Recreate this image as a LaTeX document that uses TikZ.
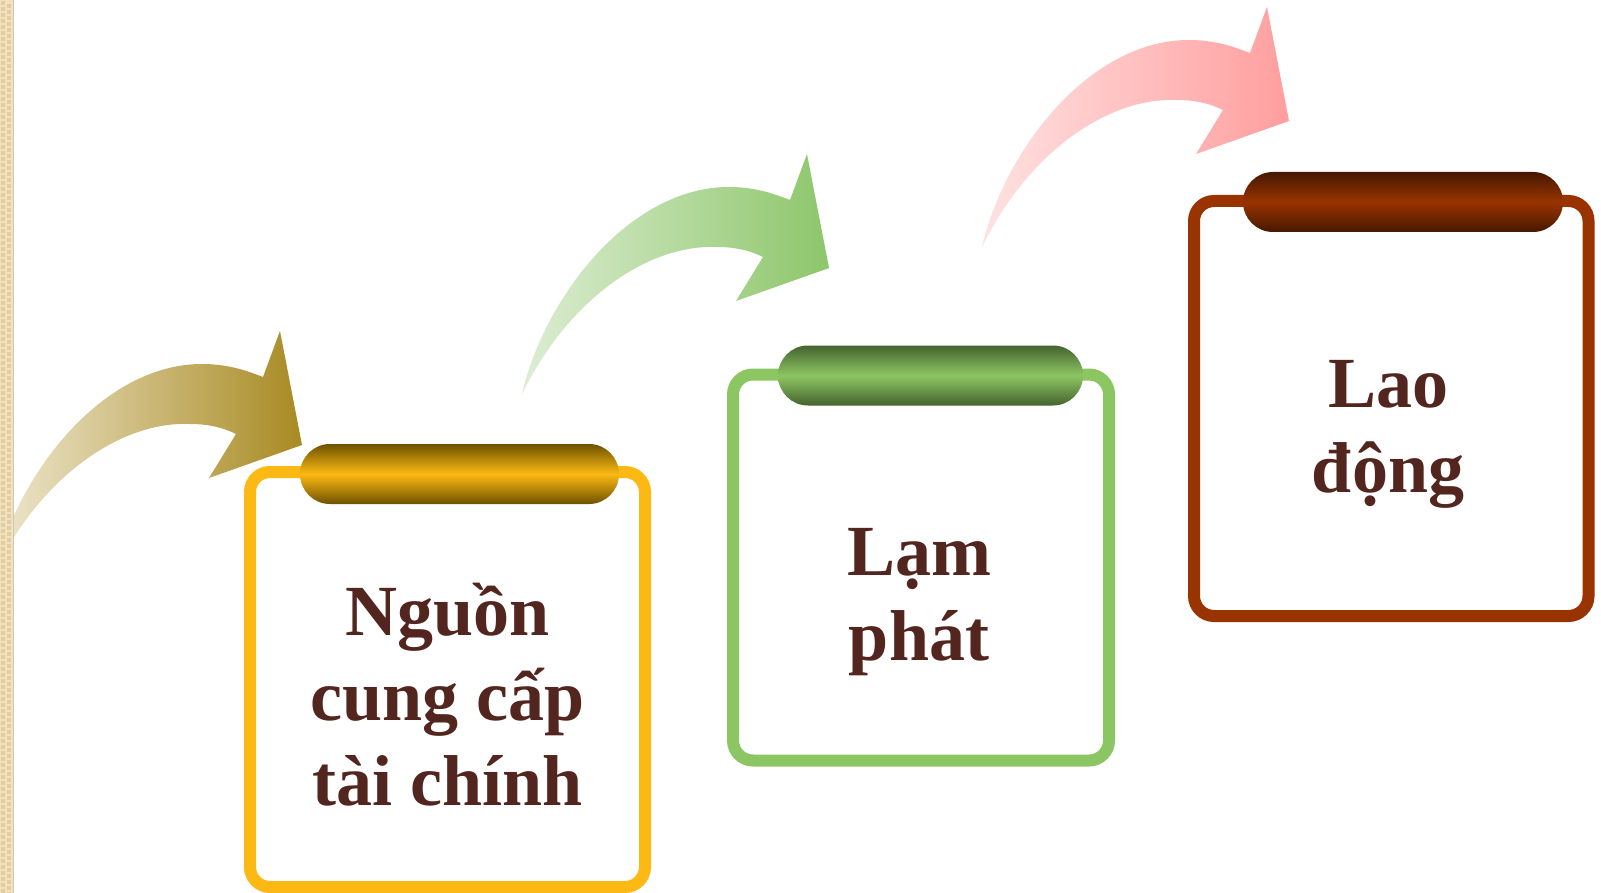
\documentclass[tikz,border=0pt]{standalone}
\usepackage{fontspec}
\setmainfont{Liberation Serif}
\definecolor{textbrown}{HTML}{52261E}
\definecolor{boxyellow}{HTML}{FDB913}
\definecolor{tabyellowdark}{HTML}{6E5200}
\definecolor{boxgreen}{HTML}{8CC663}
\definecolor{tabgreendark}{HTML}{45632F}
\definecolor{boxbrown}{HTML}{993300}
\definecolor{tabbrowndark}{HTML}{471800}
\definecolor{goldlight}{HTML}{EEE7CF}
\definecolor{golddark}{HTML}{A88A22}
\definecolor{greenlight}{HTML}{DDEDD3}
\definecolor{greendark}{HTML}{8DC66A}
\definecolor{pinklight}{HTML}{FFE2E2}
\definecolor{pinkdark}{HTML}{FF9E9E}
\definecolor{stripbase}{HTML}{F1E2BE}
\definecolor{stripdark}{HTML}{E0CDA2}
\definecolor{stripedge}{HTML}{CFC7B8}
% curved arrow, tip at #1, horizontal gradient from #2 to #3
\newcommand\curvedarrow[3]{%
  \shade[shift={(#1)},left color=#2,right color=#3]
    (-307,126) .. controls (-285,30) and (-200,-81) .. (-100,-81)
    .. controls (-70,-81) and (-50,-72) .. (-39,-68)
    -- (-22,-114) -- (0,0) -- (-93,33) -- (-66,-11)
    .. controls (-80,-18) and (-95,-21) .. (-112,-21)
    .. controls (-180,-24) and (-260,30) .. (-307,126) -- cycle;}
\begin{document}
\begin{tikzpicture}[x=1pt,y=-1pt,
  frame/.style={draw=#1,line width=12pt,rounded corners=20pt,fill=white,
    rectangle,inner sep=0pt},
  tab/.style={rectangle,rounded corners=30pt,inner sep=0pt,minimum height=60pt,
    top color=#1,bottom color=#1},
  label/.style={font=\fontsize{72}{85}\selectfont\bfseries,text=textbrown,
    align=center,inner sep=0pt,anchor=base}]
\useasboundingbox (0,0) rectangle (1601,893);
\fill[white] (0,0) rectangle (1601,893);

% arrows
\curvedarrow{302,445}{goldlight}{golddark}
\curvedarrow{829,268}{greenlight}{greendark}
\curvedarrow{1289,121}{pinklight}{pinkdark}

% boxes
\node[frame=boxyellow,minimum width=395pt,minimum height=415pt] (b1) at (447.5,679.5) {};
\node[frame=boxgreen,minimum width=376pt,minimum height=386pt] (b2) at (921,567.5) {};
\node[frame=boxbrown,minimum width=394.5pt,minimum height=415pt] (b3) at (1391.25,408.5) {};

% tabs
\node[tab=tabyellowdark,middle color=boxyellow,minimum width=319pt] (t1) at (459.5,474) {};
\node[tab=tabgreendark,middle color=boxgreen,minimum width=305pt] (t2) at (930.5,375.5) {};
\node[tab=tabbrowndark,middle color=boxbrown,minimum width=320pt] (t3) at (1403,202) {};

% labels (anchored on the baseline of the last line)
\node[label] (l1) at (447.5,805) {Nguồn\\cung cấp\\tài chính};
\node[label] (l2) at (919,660) {Lạm\\phát};
\node[label] (l3) at (1388,492) {Lao\\động};

% textured strip on the left edge
\fill[stripbase] (0,0) rectangle (14,893);
\foreach \j in {0,...,148}{
  \fill[stripdark] (1,\j*6+1) rectangle (5,\j*6+5);
  \fill[stripdark] (7,\j*6+4) rectangle (11,\j*6+8);
}
\draw[stripedge,line width=1.5pt] (13.5,0) -- (13.5,893);
\end{tikzpicture}
\end{document}
